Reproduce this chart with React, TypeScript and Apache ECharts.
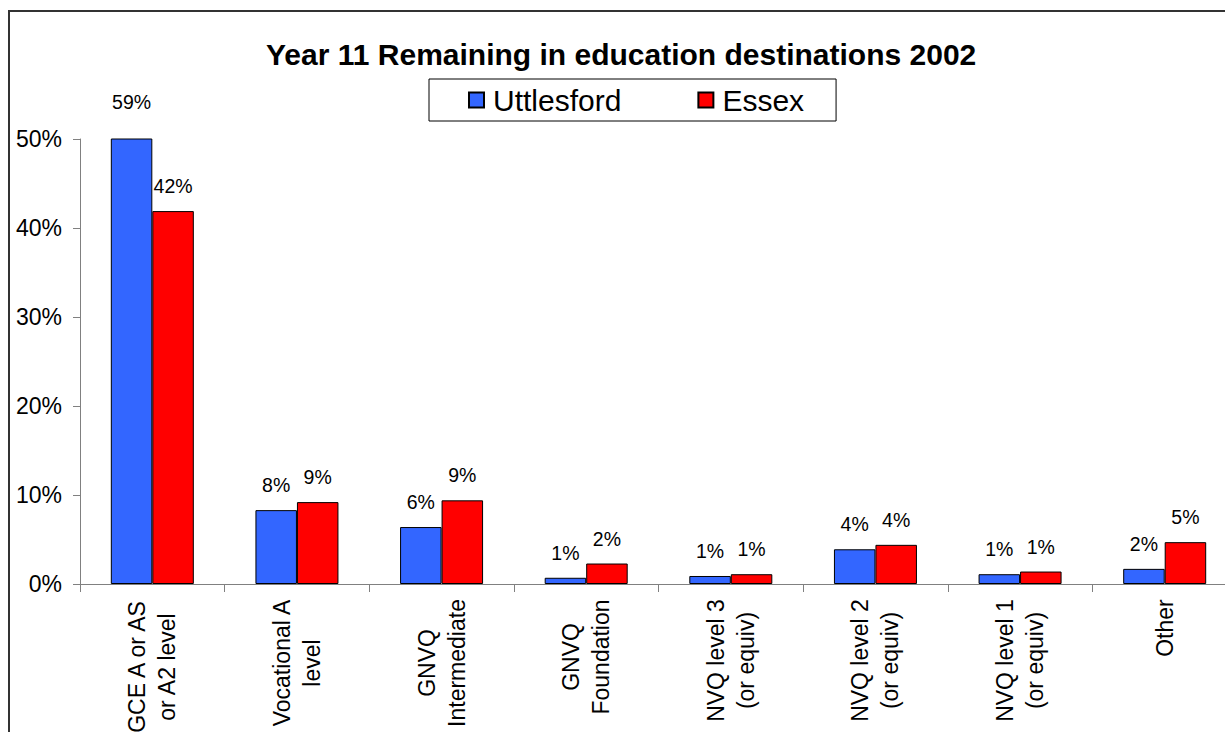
import React, { useEffect, useRef } from "react";
import * as echarts from "echarts";

const titleText = "Year 11 Remaining in education destinations 2002";
const categories = [
  "GCE A or AS\nor A2 level",
  "Vocational A\nlevel",
  "GNVQ\nIntermediate",
  "GNVQ\nFoundation",
  "NVQ level 3\n(or equiv)",
  "NVQ level 2\n(or equiv)",
  "NVQ level 1\n(or equiv)",
  "Other",
];
const seriesNames = ["Uttlesford", "Essex"];
const uttlesford = [59, 8.3, 6.4, 0.7, 0.9, 3.9, 1.1, 1.7];
const essex = [41.9, 9.2, 9.4, 2.3, 1.1, 4.4, 1.4, 4.7];
const yTicks = [0, 10, 20, 30, 40, 50];

const FONT = '"Liberation Sans", Arial, sans-serif';
const CAT_FONT_SIZE = 23;

function measure(text: string, size: number): number {
  const c = document.createElement("canvas");
  const ctx = c.getContext("2d");
  if (!ctx) return text.length * size * 0.55;
  ctx.font = `${size}px "Liberation Sans", Arial, sans-serif`;
  return ctx.measureText(text).width;
}

export default function App() {
  const ref = useRef<HTMLDivElement>(null);
  useEffect(() => {
    if (!ref.current) return;
    const chart = echarts.init(ref.current, null, { renderer: "svg" });

    const rich: Record<string, any> = {};
    categories.forEach((cat, i) => {
      const w = Math.max(...cat.split("\n").map((l) => measure(l, CAT_FONT_SIZE)));
      rich["c" + i] = {
        width: Math.ceil(w) + 2,
        align: "center",
        fontSize: CAT_FONT_SIZE,
        lineHeight: 30,
        fontFamily: FONT,
        color: "#000",
      };
    });

    const labelStyle = {
      show: true,
      position: "top",
      distance: 15,
      fontSize: 19.5,
      fontFamily: FONT,
      color: "#000",
      formatter: (p: any) => Math.round(p.value) + "%",
    };

    const uData = uttlesford.map((v) =>
      v > yTicks[yTicks.length - 1] ? { value: v, label: { offset: [0, -12] } } : v
    );

    chart.setOption({
      animation: false,
      backgroundColor: "#fff",
      title: {
        text: titleText,
        left: 266,
        top: 39,
        padding: 0,
        textStyle: { fontSize: 30, fontWeight: "bold", fontFamily: FONT, color: "#000" },
      },
      legend: {
        data: seriesNames,
        left: 429,
        top: 79,
        orient: "horizontal",
        padding: [6, 32, 6, 39],
        itemGap: 76,
        itemWidth: 15,
        itemHeight: 15,
        borderColor: "#000",
        borderWidth: 1,
        icon: "rect",
        textStyle: { fontSize: 30, fontFamily: FONT, color: "#000", padding: [0, 0, 0, 4] },
      },
      graphic: [
        {
          type: "rect",
          shape: { x: 9, y: 11, width: 1400, height: 900 },
          style: { fill: "none", stroke: "#333", lineWidth: 2 },
          silent: true,
        },
      ],
      grid: {
        left: 80,
        top: 139,
        right: 3,
        bottom: 148,
        containLabel: false,
        outerBoundsMode: "none",
      },
      xAxis: {
        type: "category",
        data: categories,
        axisLine: { show: true, lineStyle: { color: "#808080", width: 1 } },
        axisTick: { show: true, length: 8, lineStyle: { color: "#808080" } },
        axisLabel: {
          interval: 0,
          rotate: 90,
          margin: 14,
          formatter: (value: string) => {
            const i = categories.indexOf(value);
            return value
              .split("\n")
              .map((l) => `{c${i}|${l}}`)
              .join("\n");
          },
          rich,
        },
      },
      yAxis: {
        type: "value",
        min: yTicks[0],
        max: yTicks[yTicks.length - 1],
        interval: 10,
        axisLine: { show: true, lineStyle: { color: "#808080", width: 1 } },
        axisTick: { show: true, length: 7, lineStyle: { color: "#808080" } },
        splitLine: { show: false },
        axisLabel: {
          formatter: "{value}%",
          fontSize: 23,
          fontFamily: FONT,
          color: "#000",
          margin: 18,
        },
      },
      series: [
        {
          name: seriesNames[0],
          type: "bar",
          data: uData,
          barWidth: 41.5,
          barGap: "0%",
          itemStyle: { color: "#3366FF", borderColor: "#000", borderWidth: 1 },
          label: labelStyle,
        },
        {
          name: seriesNames[1],
          type: "bar",
          data: essex,
          barWidth: 41.5,
          barGap: "0%",
          itemStyle: { color: "#FF0000", borderColor: "#000", borderWidth: 1 },
          label: labelStyle,
        },
      ],
    });
    return () => chart.dispose();
  }, []);
  return (
    <div
      style={{
        position: "absolute",
        left: 0,
        top: 0,
        width: 1225,
        height: 732,
        overflow: "hidden",
      }}
    >
      <div ref={ref} style={{ width: 1240, height: 732 }} />
    </div>
  );
}
